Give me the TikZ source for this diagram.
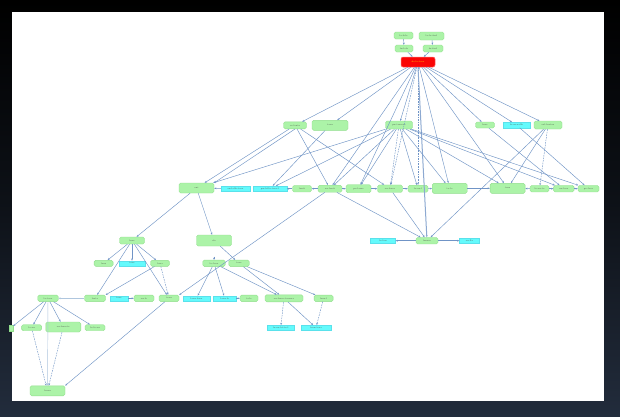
\documentclass[tikz,border=0pt]{standalone}
% NOTE: the node labels in the reference are illegible at its resolution
% (620x416, 2-3 px text). The labels below are PLACEHOLDERS of similar
% length, not a transcription of the original text; replace them with the
% real labels if a legible source is available.
\usetikzlibrary{arrows.meta}
\definecolor{gfl}{RGB}{172,243,168}
\definecolor{gbd}{RGB}{145,222,140}
\definecolor{cfl}{RGB}{100,250,252}
\definecolor{cbd}{RGB}{90,225,235}
\definecolor{rfl}{RGB}{250,5,5}
\definecolor{rbd}{RGB}{255,110,110}
\definecolor{ec}{RGB}{112,148,198}
\definecolor{ecl}{RGB}{175,198,222}
\definecolor{txt}{RGB}{80,90,80}
\definecolor{navy}{RGB}{34,44,60}
\newcommand\lblfont{\fontsize{2.2}{2.6}\selectfont}
\tikzset{
 gn/.style={draw=gbd, line width=0.4pt, fill=gfl, rounded corners=1.6pt, inner sep=0pt, font=\lblfont, text=txt},
 cn/.style={draw=cbd, line width=0.3pt, fill=cfl, inner sep=0pt, font=\lblfont, text=txt},
 rn/.style={draw=rbd, line width=0.5pt, fill=rfl, rounded corners=2pt, inner sep=0pt, font=\lblfont, text=yellow},
 sz/.style 2 args={minimum width=#1pt, minimum height=#2pt},
 e/.style={draw=ec, line width=0.45pt, -{Stealth[length=2.2pt,width=1.8pt]}},
 ed/.style={e, dash pattern=on 1.6pt off 1pt},
 el/.style={e, draw=ecl},
 ek/.style={e, line width=1pt}
}
\begin{document}
\begin{tikzpicture}[x=1pt,y=-1pt]
\useasboundingbox (0,0) rectangle (620,416);
\shade[top color=black, bottom color=navy, middle color=black!60!navy] (0,0) rectangle (620,416);
\fill[white] (12,12) rectangle (604,401);
% top
\node[gn, sz={19}{7}] (t1) at (403.5,35.5) {la-lola};
\node[gn, sz={25}{8}] (t2) at (431.5,36) {la-lo-fuel};
\node[gn, sz={18}{7}] (t3) at (404,48.5) {fu-lola};
\node[gn, sz={20}{7}] (t4) at (433,48.5) {fu-fuel};
\node[rn, sz={34}{10}] (root) at (418,62) {de-lo-tesa};
% level 2
\node[gn, sz={23}{7}] (a1) at (295,125.3) {ca-lenta};
\node[gn, sz={36}{10}] (a2) at (330,125.3) {tasu};
\node[gn, sz={27}{8}] (a3) at (399,125) {pu-tessera};
\node[gn, sz={19}{6}] (a4) at (485,125) {lena};
\node[cn, sz={27}{5.5}] (a5) at (516.5,125) {la-su-sallo};
\node[gn, sz={28}{8}] (a6) at (548,125) {sal-lenteu};
% level 3
\node[gn, sz={35}{10}] (b1) at (196.5,188) {oni};
\node[cn, sz={29}{5.5}] (b2) at (235.5,188.7) {su-lallo-tesa};
\node[cn, sz={33.5}{5.5}] (b3) at (270,188.7) {pu-lalla-tesa-l};
\node[gn, sz={19}{6.5}] (b4) at (302,188.7) {lanti};
\node[gn, sz={24}{7}] (b5) at (330,188.7) {su-lenti};
\node[gn, sz={25}{8}] (b6) at (358.5,188.7) {pe-lasso};
\node[gn, sz={25}{7.5}] (b7) at (390,188.7) {su-lossa};
\node[gn, sz={20}{7}] (b8) at (418,188.7) {lo-su-l};
\node[gn, sz={35}{10}] (b9) at (449.7,188.3) {te-lo};
\node[gn, sz={35}{10}] (b10) at (507.6,188.3) {tesu};
\node[gn, sz={19}{6.5}] (b11) at (539.5,188.7) {lo-su-ta};
\node[gn, sz={20.5}{6.5}] (b12) at (563.8,188.7) {su-losa};
\node[gn, sz={21}{6.5}] (b13) at (588.5,188.7) {pe-lesa};
% right lower
\node[cn, sz={25}{5}] (c1) at (383,240.7) {la-lon};
\node[gn, sz={22}{6.5}] (c2) at (427,240.7) {lanssa};
\node[cn, sz={20}{5}] (c3) at (469.5,240.7) {su-lla};
% left
\node[gn, sz={25}{7}] (d1) at (132,240.5) {lena};
\node[gn, sz={35}{11}] (d2) at (214,240.5) {olo};
\node[gn, sz={19}{6}] (e1) at (103.6,263.3) {lasu};
\node[cn, sz={26.5}{5}] (e2) at (132,263.3) {tesa};
\node[gn, sz={19}{6}] (e3) at (160,263.3) {lona};
\node[gn, sz={22.5}{6.5}] (e4) at (214,263.3) {lo-lasa};
\node[gn, sz={20.5}{6.5}] (e5) at (239,263.3) {tesa};
\node[gn, sz={20.5}{6.5}] (f1) at (48,298.3) {la-tesa};
\node[gn, sz={21}{6.5}] (f2) at (95,298.3) {lasta};
\node[cn, sz={18.5}{5}] (f3) at (119,298.3) {tesa};
\node[gn, sz={20}{6.5}] (f4) at (144,298.3) {su-lo};
\node[gn, sz={20}{6.5}] (f5) at (169,298.3) {tesu};
\node[cn, sz={26.5}{5}] (f6) at (196.4,298.3) {lasu-lona};
\node[cn, sz={22.5}{5}] (f7) at (224.8,298.3) {lasu-lo};
\node[gn, sz={18}{6.5}] (f8) at (249,298.3) {tolo};
\node[gn, sz={38}{7}] (f9) at (284,298.3) {su-lasso-tessera};
\node[gn, sz={19}{6.5}] (f10) at (323.6,298.3) {lasu-l};
\node[gn, sz={4}{6}, rounded corners=0pt] (g0) at (11,327.7) {};
\node[gn, sz={20}{6}] (g1) at (31.6,327.7) {lo-su};
\node[gn, sz={35}{10}] (g2) at (63.3,327) {su-lasseta};
\node[gn, sz={20}{6}] (g3) at (95,327.7) {la-lo-su};
\node[cn, sz={27.6}{5}] (g4) at (280.7,327.7) {la-su-lotta-l};
\node[cn, sz={30}{5}] (g5) at (316,327.7) {lasu-tesa};
\node[gn, sz={35}{10}] (h1) at (47.5,390.8) {lassu};
\coordinate (s1) at (214,256.5);
% edges top
\draw[e] (t1) -- (t3); \draw[e] (t2) -- (t4);
\draw[e] (t3) -- (root); \draw[e] (t4) -- (root);
\foreach \n in {a1,a2,a3,a4,a5,a6,b5,b6,b9,b10} \draw[e] (root) -- (\n);
\draw[ed] (root) -- (b7);
\draw[ed] (root.south) -- (b8);
\draw[ek, draw=ec!80] (root.south) -- (c2);
% a edges
\draw[e] (a1) -- (b1); \draw[e] (a1.south) -- (b1.north east);
\draw[e] (a1) -- (b5); \draw[e] (a1) -- (b7);
\draw[e] (a2) -- (b3);
\foreach \n in {b1,b3,b5,b6,b8,b9,b10,b12,b13} \draw[e] (a3) -- (\n);
\draw[ed] (a3) -- (b7);
\draw[e] (a4) -- (b12); \draw[e] (a5) -- (b13);
\draw[e] (a6) -- (b10); \draw[ed] (a6) -- (b11); \draw[e] (a6) -- (c2);
% horizontal
\draw[e] (b2) -- (b1); \draw[e] (b4) -- (b3); \draw[e] (b5) -- (b4);
\draw[e] (b5) -- (b6); \draw[e] (b6) -- (b7); \draw[e] (b7) -- (b8);
\draw[e] (b8) -- (b9); \draw[e] (b9) -- (b10); \draw[e] (b11) -- (b10);
\draw[e] (b11) -- (b12); \draw[e] (b12) -- (b13);
% c
\draw[e] (b5) -- (c2); \draw[e] (b7) -- (c2);
\draw[e, line width=0.7pt] (c2) -- (c1); \draw[e, line width=0.7pt] (c2) -- (c3);
% left
\draw[e] (b1) -- (d1); \draw[e] (b1) -- (d2);
\draw[e] (b5) -- (f5.north east); \draw[e] (f5) -- (h1.north east);
\draw[e] (d1) -- (e1); \draw[e, line width=0.8pt] (d1) -- (e2); \draw[e] (d1) -- (e3);
\draw[e] (d1) -- (f2); \draw[e] (d1) -- (f5);
\draw[ed] (e3) -- (f5); \draw[e] (e3) -- (f2.north east);
\draw[el] (f2) -- (f1); \draw[e] (f3) -- (f4); \draw[e] (f7) -- (f8);
\draw[e] (d2) -- (e5); \draw[e] (s1) -- (e4);
\draw[e] (e4) -- (f6); \draw[e] (e4) -- (f7); \draw[e] (e4) -- (f9);
\draw[e] (e5) -- (f9); \draw[e] (e5) -- (f10);
\draw[ed] (f9) -- (g4); \draw[e] (f9) -- (g5); \draw[ed] (f10) -- (g5);
\draw[e] (f1) -- (g0); \draw[e] (f1) -- (g1); \draw[e] (f1) -- (g2); \draw[e] (f1) -- (g3);
\draw[el] (f1) -- (h1);
\draw[ed] (g1) -- (h1); \draw[ed] (g2) -- (h1);
\end{tikzpicture}
\end{document}
